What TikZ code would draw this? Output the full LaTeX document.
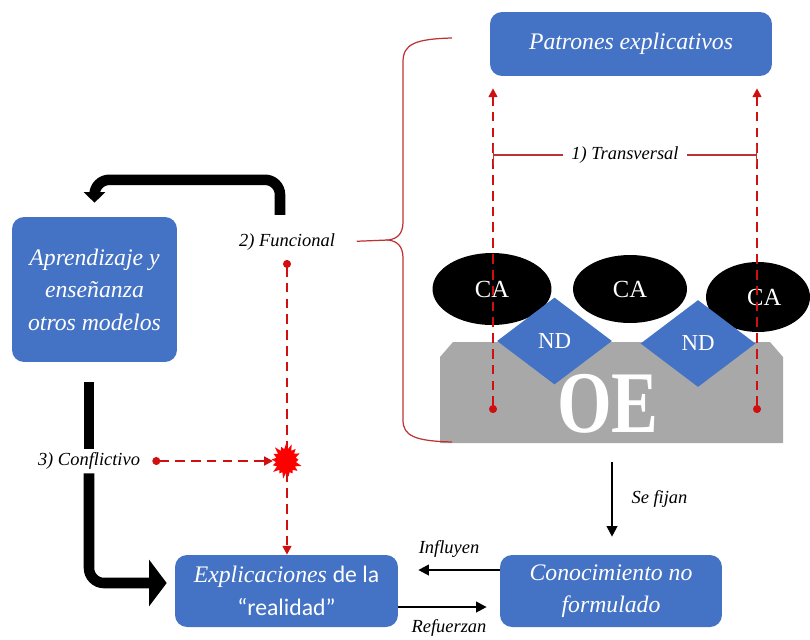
\documentclass[tikz,border=0pt]{standalone}
\usepackage{fontspec}
\setmainfont{LiberationSerif}[Extension=.ttf, UprightFont=*-Regular, ItalicFont=*-Italic, BoldFont=*-Bold]
\newfontfamily\calibfont{Carlito}
\usepackage{tikz}
\usetikzlibrary{shapes.geometric, shapes.symbols, arrows.meta, positioning, calc}
\definecolor{boxblue}{RGB}{68,114,196}
\definecolor{dashred}{RGB}{208,16,16}
\definecolor{bracered}{RGB}{190,50,50}
\definecolor{oegray}{RGB}{168,168,168}

\begin{document}
\begin{tikzpicture}[x=0.02cm, y=-0.02cm,
  box/.style={rectangle, rounded corners=0.24cm, fill=boxblue, text=white, align=center, inner sep=0pt, font=\fontsize{13.5}{18.5}\selectfont\itshape},
  lbl/.style={font=\fontsize{10.5}{12}\selectfont\itshape, inner sep=2pt},
  ca/.style={ellipse, fill=black, text=white, inner sep=0pt, font=\fontsize{14}{15}\selectfont},
  nd/.style={diamond, fill=boxblue, text=white, inner sep=0pt, minimum width=2.3cm, minimum height=1.74cm, font=\fontsize{13}{14}\selectfont},
  reddash/.style={draw=dashred, line width=1.1pt, dash pattern=on 5.5pt off 3.5pt, {Circle[length=4.5pt]}-{Triangle[width=5pt,length=5pt]}},
  heavy/.style={line width=6pt, rounded corners=0.3cm},
  thinarrow/.style={line width=1.2pt, -{Triangle[width=6pt,length=6pt]}}
]
\useasboundingbox (0,0) rectangle (810,639);

% cajas
\node[box, minimum width=5.64cm, minimum height=1.28cm] (patr) at (631,44) {Patrones explicativos};
\node[box, minimum width=3.3cm, minimum height=2.9cm] (aprend) at (94.5,289.5) {Aprendizaje y\\enseñanza\\otros modelos};
\node[box, minimum width=4.46cm, minimum height=1.44cm] (expl) at (286.5,591) {Explicaciones {\calibfont\upshape de la}\\{\calibfont\upshape “realidad”}};
\node[box, minimum width=4.44cm, minimum height=1.44cm] (conoc) at (611,591) {Conocimiento no\\formulado};

% OE
\fill[oegray] (440,443) -- (440,357) -- (453,342) -- (770,342) -- (783,357) -- (783,443) -- cycle;
\node[font=\fontsize{40}{40}\selectfont\bfseries, text=white, yscale=1.25, transform shape] (oe) at (608,404) {OE};
\coordinate (oebase) at (612,443);

\node[ca, minimum width=2.38cm, minimum height=1.44cm] (ca1) at (492,289) {CA};
\node[ca, minimum width=2.28cm, minimum height=1.36cm] (ca2) at (630,289) {CA};
\node[ca, minimum width=2.08cm, minimum height=1.4cm] (ca3) at (758,297) {\hspace{0.25cm}CA};
\node[nd] (nd1) at (554.5,341) {ND};
\node[nd] (nd2) at (698,343.5) {ND};

% transversal
\coordinate (ldot) at (493,413);
\coordinate (rdot) at (757,413);
\draw[reddash] (ldot) -- ([yshift=-0.24cm]ldot |- patr.south);
\draw[reddash] (rdot) -- ([yshift=-0.24cm]rdot |- patr.south);
\coordinate (tl) at (493,155);
\coordinate (tr) at (757,155);
\draw[bracered, line width=0.8pt, {Bar[width=11pt]}-{Bar[width=11pt]}] (tl) -- (tr)
  node[midway, lbl, fill=white, text=black, inner xsep=5pt] (trans) {1) Transversal};

% llave
\node[lbl] (func) at (287,242) {2) Funcional};
\coordinate (bracetip) at (388,240);
\draw[bracered, line width=0.7pt] (452,38) .. controls (415,39) and (403,44) .. (403,62) -- (403,222)
  .. controls (403,234) and (397,239) .. (bracetip) .. controls (397,241) and (403,246) .. (403,258)
  -- (403,420) .. controls (403,436) and (415,441) .. (452,442);
\draw[bracered, line width=0.7pt, shorten <=0.36cm] (func.east) -- (bracetip);

% funcional y conflictivo
\node[lbl] (conf) at (89,461) {3) Conflictivo};
\coordinate (fdot) at (287,260);
\draw[reddash] (fdot) -- (fdot |- expl.north);
\draw[reddash, shorten >=0.28cm] ([xshift=0.17cm]conf.east) -- (fdot |- conf);
\node[starburst, fill=red, draw=none, minimum width=0.68cm, minimum height=0.76cm, inner sep=1pt, starburst point height=0.14cm] (clash) at (286,461) {};

% flechas negras gruesas
\draw[heavy, -{Triangle[width=12pt,length=6pt]}] ([xshift=-0.14cm,yshift=0.3cm]func.north) -- ++(0,-35) -| ([yshift=0.28cm]aprend.north);
\draw[heavy] ([yshift=-0.4cm]aprend.south -| conf) -- (conf.north);
\draw[heavy, -{Triangle[width=26pt,length=10pt]}, shorten >=0.16cm] (conf.south) |- ([yshift=0.16cm]expl.west);

% flechas finas
\draw[thinarrow, shorten <=0.38cm, shorten >=0.36cm] (oebase) -- (oebase |- conoc.north)
  node[midway, right=0.3cm, lbl] {Se fijan};
\draw[thinarrow, shorten >=0.4cm] ([yshift=0.42cm]conoc.west) -- ([yshift=0.42cm]expl.east)
  node[midway, above=0.15cm, lbl] {Influyen};
\draw[thinarrow, shorten >=0.26cm] ([yshift=-0.32cm]expl.east) -- ([yshift=-0.32cm]conoc.west)
  node[midway, below=0.15cm, lbl] {Refuerzan};
\end{tikzpicture}
\end{document}
